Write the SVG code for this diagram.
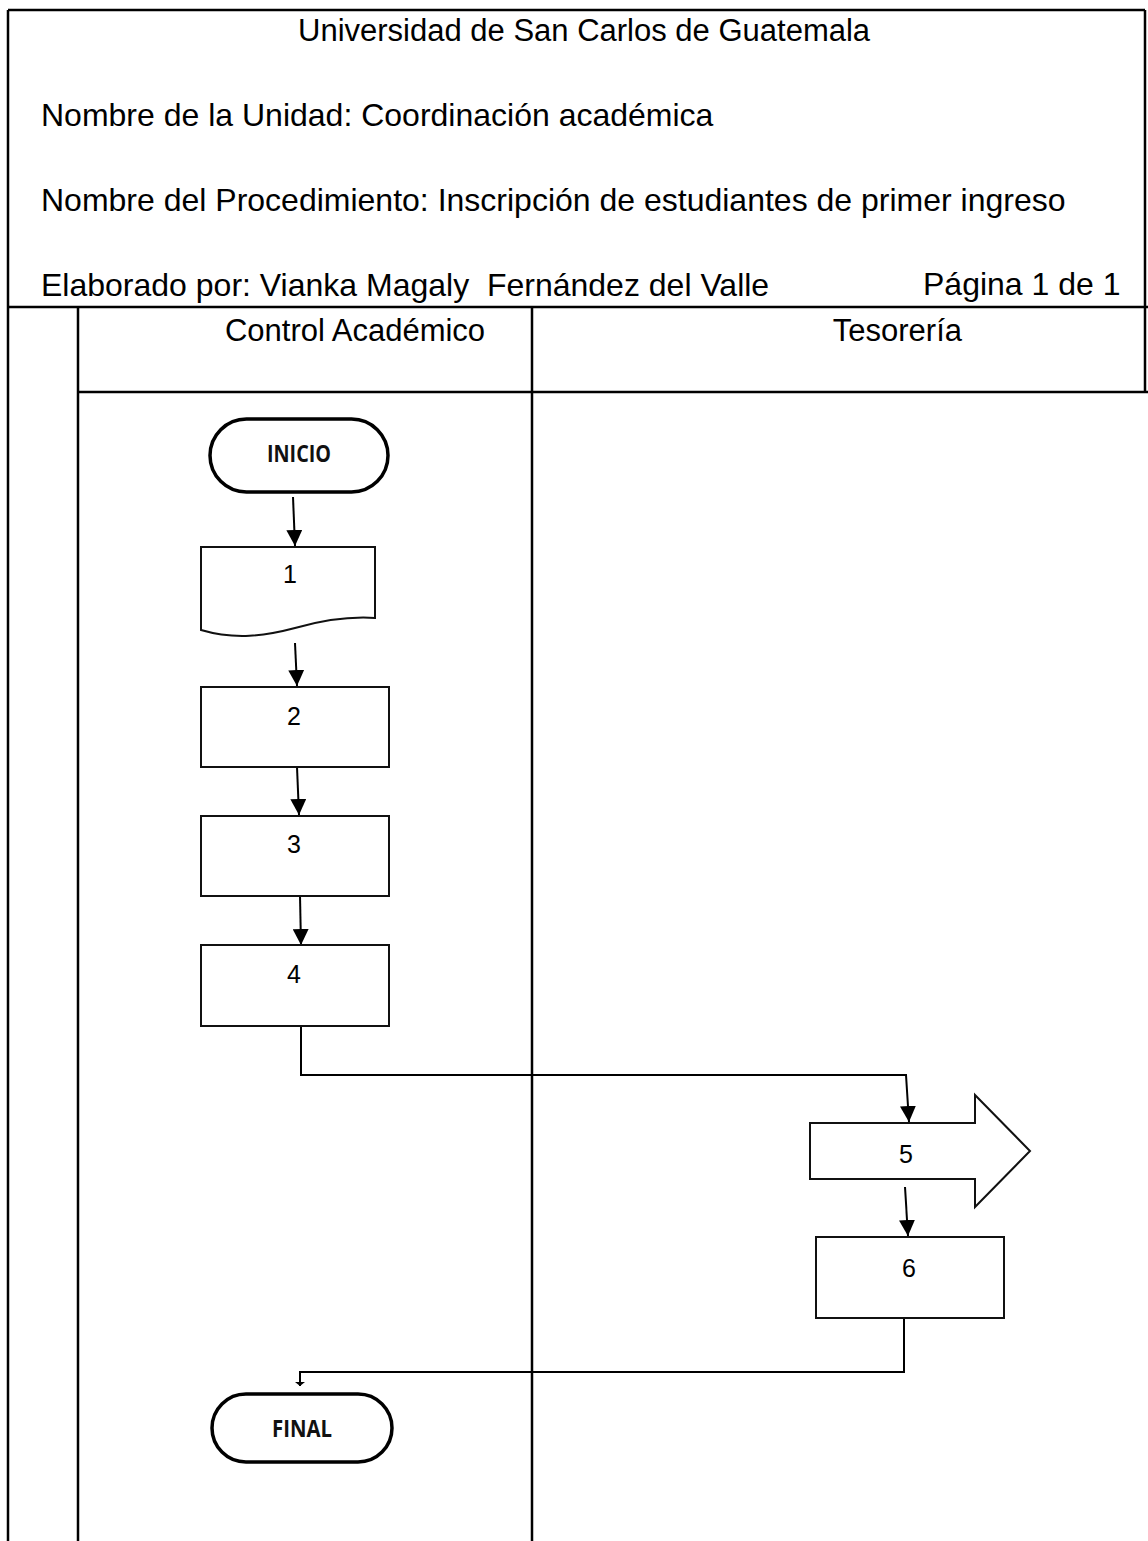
<svg xmlns="http://www.w3.org/2000/svg" width="1148" height="1541" viewBox="0 0 1148 1541">
  <style>
    .frame { stroke: #000; stroke-width: 2.5; fill: none; }
    .hdr { font-family: "Liberation Sans", Arial, sans-serif; font-size: 32px; fill: #000; }
    .lane { font-family: "Liberation Sans", Arial, sans-serif; font-size: 31px; fill: #000; }
    .box { fill: #fff; stroke: #111; stroke-width: 2; }
    .term { fill: #fff; stroke: #000; stroke-width: 3.5; }
    .num { font-family: "Liberation Sans", Arial, sans-serif; font-size: 25px; fill: #000; text-anchor: middle; }
    .tlabel { font-family: "Liberation Sans Narrow", "Open Sans", sans-serif; font-weight: 700; font-size: 24px; fill: #111; text-anchor: middle; }
    .conn { fill: none; stroke: #000; stroke-width: 2; }
  </style>
  <defs>
    <marker id="arrow" markerUnits="userSpaceOnUse" markerWidth="16" markerHeight="16" refX="16" refY="8" orient="auto">
      <path d="M0,0 L16,8 L0,16 Z" fill="#000"/>
    </marker>
    <marker id="arrowSmall" markerUnits="userSpaceOnUse" markerWidth="10" markerHeight="10" refX="4" refY="5" orient="auto">
      <path d="M0,0 L4,5 L0,10 Z" fill="#000"/>
    </marker>
  </defs>

  <rect width="1148" height="1541" fill="#fff"/>

  <!-- table frame and swimlanes -->
  <g id="table">
    <line class="frame" x1="8" y1="10" x2="1145" y2="10"/>
    <line class="frame" x1="8" y1="10" x2="8" y2="1541"/>
    <line class="frame" x1="1145" y1="10" x2="1145" y2="392"/>
    <line class="frame" x1="8" y1="307" x2="1148" y2="307"/>
    <line class="frame" x1="78" y1="392" x2="1148" y2="392"/>
    <line class="frame" x1="78" y1="307" x2="78" y2="1541"/>
    <line class="frame" x1="532" y1="307" x2="532" y2="1541"/>
  </g>

  <!-- header texts -->
  <g id="header">
    <text class="hdr" x="298" y="41" style="font-size:31px">Universidad de San Carlos de Guatemala</text>
    <text class="hdr" x="41" y="126">Nombre de la Unidad: Coordinación académica</text>
    <text class="hdr" x="41" y="211">Nombre del Procedimiento: Inscripción de estudiantes de primer ingreso</text>
    <text class="hdr" x="41" y="296" xml:space="preserve">Elaborado por: Vianka Magaly  Fernández del Valle</text>
    <text class="hdr" x="923" y="295">Página 1 de 1</text>
    <text class="lane" x="355" y="341" text-anchor="middle">Control Académico</text>
    <text class="lane" x="962" y="341" text-anchor="end">Tesorería</text>
  </g>

  <!-- connectors -->
  <g id="connectors">
    <line class="conn" x1="293" y1="497" x2="295" y2="546" marker-end="url(#arrow)"/>
    <line class="conn" x1="295" y1="643" x2="297" y2="686" marker-end="url(#arrow)"/>
    <line class="conn" x1="297" y1="767" x2="299" y2="815" marker-end="url(#arrow)"/>
    <line class="conn" x1="300" y1="896" x2="301" y2="945" marker-end="url(#arrow)"/>
    <path class="conn" d="M301,1026 V1075 H906 L909,1122" marker-end="url(#arrow)"/>
    <line class="conn" x1="905" y1="1187" x2="908" y2="1236" marker-end="url(#arrow)"/>
    <path class="conn" d="M904,1316 V1372 H300 V1386" marker-end="url(#arrowSmall)"/>
  </g>

  <!-- start terminator -->
  <g id="inicio">
    <rect class="term" x="210" y="419" width="178" height="73" rx="36.5"/>
    <text class="tlabel" x="299" y="462" textLength="64" lengthAdjust="spacingAndGlyphs">INICIO</text>
  </g>

  <!-- step 1: document -->
  <g id="step1">
    <path class="box" d="M201,547 H375 V618 C345,616 320,621 295,628 C265,636 235,640 201,630 Z"/>
    <text class="num" x="290" y="583">1</text>
  </g>

  <!-- step 2 -->
  <g id="step2">
    <rect class="box" x="201" y="687" width="188" height="80"/>
    <text class="num" x="294" y="725">2</text>
  </g>

  <!-- step 3 -->
  <g id="step3">
    <rect class="box" x="201" y="816" width="188" height="80"/>
    <text class="num" x="294" y="853">3</text>
  </g>

  <!-- step 4 -->
  <g id="step4">
    <rect class="box" x="201" y="945" width="188" height="81"/>
    <text class="num" x="294" y="983">4</text>
  </g>

  <!-- step 5: block arrow -->
  <g id="step5">
    <path class="box" d="M810,1123 H975 V1095 L1030,1151 L975,1207 V1179 H810 Z"/>
    <text class="num" x="906" y="1163">5</text>
  </g>

  <!-- step 6 -->
  <g id="step6">
    <rect class="box" x="816" y="1237" width="188" height="81"/>
    <text class="num" x="909" y="1277">6</text>
  </g>

  <!-- end terminator -->
  <g id="final">
    <rect class="term" x="212" y="1394" width="180" height="68" rx="34"/>
    <text class="tlabel" x="302" y="1437" textLength="60" lengthAdjust="spacingAndGlyphs">FINAL</text>
  </g>
</svg>
